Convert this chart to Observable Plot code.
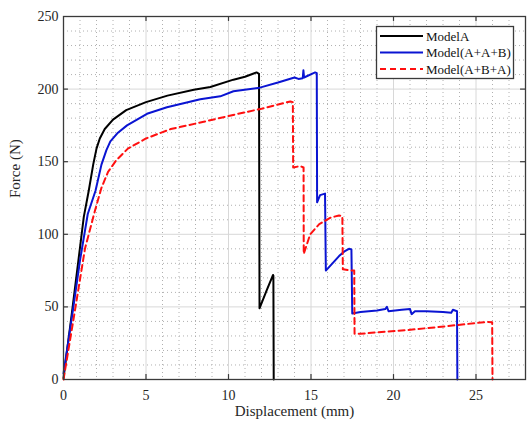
<!DOCTYPE html>
<html>
<head>
<meta charset="utf-8">
<script src="https://cdn.jsdelivr.net/npm/d3@7"></script>
<script src="https://cdn.jsdelivr.net/npm/@observablehq/plot@0.6"></script>
<style>
  html, body { margin: 0; padding: 0; background: #fff; }
  #chart { width: 527px; height: 422px; }
</style>
</head>
<body>
<div id="chart"></div>
<script>
// ---- data ----
const seriesNames = ["ModelA", "Model(A+A+B)", "Model(A+B+A)"];

const modelA_x = [0, 0.5, 1.23, 1.53, 1.8, 2.0, 2.2, 2.5, 3.0, 3.8, 5.0, 6.3, 7.9, 8.9, 10.3, 11.0, 11.7, 11.85, 11.88, 12.3, 12.7, 12.72, 12.74];
const modelA_y = [1, 45, 112, 130, 148, 159, 166, 172.5, 179, 185.5, 191, 195.5, 199.5, 201.5, 206.5, 208.5, 211.5, 210.5, 49, 61, 72, 71.5, 0];

const modelAAB_x = [0, 0.6, 1.0, 1.47, 1.94, 2.3, 2.6, 2.84, 3.3, 3.85, 5.06, 6.27, 8.29, 9.5, 10.3, 11.9, 13.0, 14.0, 14.24, 14.5, 14.54, 14.58, 15.25, 15.35, 15.37, 15.55, 15.85, 15.9, 16.3, 16.7, 17.0, 17.3, 17.45, 17.5, 18.0, 18.5, 19.0, 19.5, 19.6, 19.7, 20.5, 21.0, 21.1, 21.3, 22.0, 23.0, 23.5, 23.6, 23.85, 23.87];
const modelAAB_y = [4, 50, 82, 114, 130, 148, 158, 164, 170, 175, 183, 187.5, 193, 195, 198.5, 201, 204.5, 208, 207, 207.5, 213, 208, 211.5, 211, 122, 127, 128, 75, 80, 85, 88, 90, 89.5, 45.5, 46.5, 47, 47.5, 48.5, 50, 47, 48, 48.5, 45, 47, 47, 46.5, 46, 48, 47, 0];

const modelABA_x = [0, 0.73, 1.3, 1.9, 2.3, 2.7, 3.2, 3.9, 5.0, 6.5, 8.5, 10.4, 12.0, 13.75, 13.9, 13.92, 14.35, 14.55, 14.56, 14.95, 15.5, 16.2, 16.7, 16.9, 16.93, 17.4, 17.62, 17.64, 18.0, 19.0, 20.8, 23.2, 25.6, 25.98, 26.0];
const modelABA_y = [0, 50, 90, 116, 132, 143, 151, 159, 166, 172.5, 177.5, 182.5, 186.5, 191.5, 191, 146, 147, 146, 86.5, 100, 107, 111.5, 113, 112.5, 76, 75, 75, 31.5, 31.5, 32.5, 34, 36.7, 39.6, 39.5, 0];

const xMajorTicks = [0, 5, 10, 15, 20, 25];
const yMajorTicks = [0, 50, 100, 150, 200, 250];
const xMinorTicks = d3.range(1, 28).filter(d => d % 5 !== 0);
const yMinorTicks = d3.range(10, 250, 10).filter(d => d % 50 !== 0);

const xLabel = "Displacement (mm)";
const yLabel = "Force (N)";

// ---- build rows ----
const rows = (xs, ys) => xs.map((x, i) => ({x, y: ys[i]}));
const dataA = rows(modelA_x, modelA_y);
const dataAAB = rows(modelAAB_x, modelAAB_y);
const dataABA = rows(modelABA_x, modelABA_y);

const colors = ["#000000", "#0a14d2", "#ff1010"];
const dashes = [null, null, "6,4"];

const serif = "'Liberation Serif', 'Times New Roman', serif";
const frameColor = "#3a3a3a";

const plot = Plot.plot({
  width: 527,
  height: 422,
  marginLeft: 63,
  marginRight: 2,
  marginTop: 16,
  marginBottom: 43,
  x: {domain: [0, 28]},
  y: {domain: [0, 250]},
  style: {fontFamily: serif, fontSize: "14px", color: "#262626", background: "#fff"},
  marks: [
    // minor dotted grid
    Plot.gridX(xMinorTicks, {stroke: "#b0b0b0", strokeOpacity: 1, strokeDasharray: "1,3"}),
    Plot.gridY(yMinorTicks, {stroke: "#b0b0b0", strokeOpacity: 1, strokeDasharray: "1,3"}),
    // major grid
    Plot.gridX(xMajorTicks, {stroke: "#d8d8d8", strokeOpacity: 1}),
    Plot.gridY(yMajorTicks, {stroke: "#d8d8d8", strokeOpacity: 1}),
    // series
    Plot.line(dataA, {x: "x", y: "y", stroke: colors[0], strokeWidth: 2}),
    Plot.line(dataAAB, {x: "x", y: "y", stroke: colors[1], strokeWidth: 2}),
    Plot.line(dataABA, {x: "x", y: "y", stroke: colors[2], strokeWidth: 2, strokeDasharray: dashes[2]}),
    // inward tick marks on all four sides
    Plot.ruleX(xMajorTicks.slice(1), {x: d => d, y1: 0, y2: 3.4, stroke: frameColor, strokeWidth: 1.2}),
    Plot.ruleX(xMajorTicks.slice(1), {x: d => d, y1: 250, y2: 246.6, stroke: frameColor, strokeWidth: 1.2}),
    Plot.ruleY(yMajorTicks.slice(1, -1), {y: d => d, x1: 0, x2: 0.3, stroke: frameColor, strokeWidth: 1.2}),
    Plot.ruleY(yMajorTicks.slice(1, -1), {y: d => d, x1: 28, x2: 27.7, stroke: frameColor, strokeWidth: 1.2}),
    Plot.frame({stroke: frameColor, strokeWidth: 1.3}),
    Plot.axisX(xMajorTicks, {tickSize: 0, tickPadding: 11, fontSize: 14, label: null}),
    Plot.axisY(yMajorTicks, {tickSize: 0, tickPadding: 5, fontSize: 14, label: null}),
    // axis titles
    Plot.text([xLabel], {text: d => d, frameAnchor: "bottom", dy: 36, fontSize: 15, fill: "#262626"}),
    Plot.text([yLabel], {text: d => d, frameAnchor: "left", dx: -48, rotate: -90, fontSize: 15, fill: "#262626"})
  ]
});

// ---- legend inside the plot area (top right) ----
const svg = d3.select(plot);
const lg = svg.append("g").attr("font-family", serif).attr("font-size", 13).attr("text-anchor", "start");
lg.append("rect").attr("x", 376.5).attr("y", 26.5).attr("width", 137).attr("height", 52)
  .attr("fill", "#fff").attr("stroke", frameColor).attr("stroke-width", 1.3);
const rowsY = [36, 52.5, 69];
seriesNames.forEach((name, i) => {
  lg.append("line").attr("x1", 380).attr("x2", 423).attr("y1", rowsY[i]).attr("y2", rowsY[i])
    .attr("stroke", colors[i]).attr("stroke-width", 2)
    .attr("stroke-dasharray", dashes[i]);
  lg.append("text").attr("x", 426).attr("y", rowsY[i]).attr("dy", "0.35em")
    .attr("text-anchor", "start").attr("fill", "#111").text(name);
});

document.getElementById("chart").appendChild(plot);
</script>
</body>
</html>
